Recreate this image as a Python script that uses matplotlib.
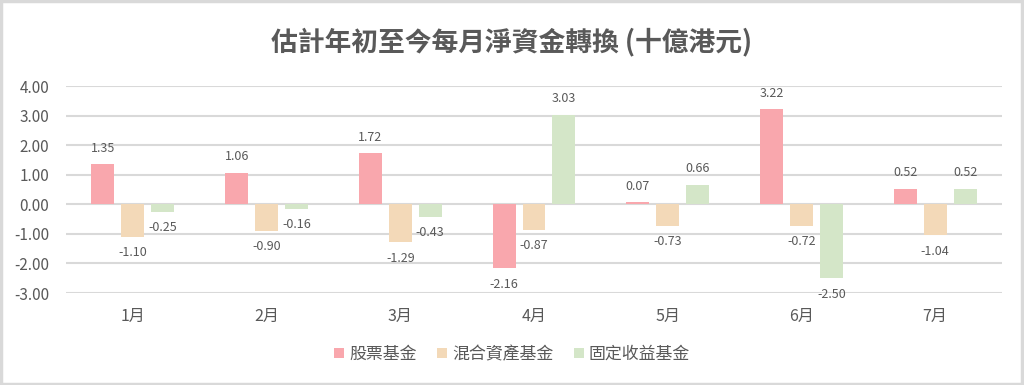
import matplotlib.pyplot as plt
import numpy as np

plt.rcParams['font.family'] = ['Noto Sans CJK TC', 'DejaVu Sans']

# Data (HKD billions)
months = ['1月', '2月', '3月', '4月', '5月', '6月', '7月']
equity = [1.35, 1.06, 1.72, -2.16, 0.07, 3.22, 0.52]
mixed = [-1.10, -0.90, -1.29, -0.87, -0.73, -0.72, -1.04]
fixed_income = [-0.25, -0.16, -0.43, 3.03, 0.66, -2.50, 0.52]
series_names = ['股票基金', '混合資產基金', '固定收益基金']
colors = ['#F9A7AD', '#F3D9B8', '#D4E6C8']

text_color = '#595959'
grid_color = '#D9D9D9'

fig = plt.figure(figsize=(10.24, 3.85), dpi=100)
ax = fig.add_axes([66 / 1024, 1 - 293 / 385, 936 / 1024, 207 / 385])

x = np.arange(len(months))
width = 0.172
step = 0.224

for i, (vals, name, c) in enumerate(zip([equity, mixed, fixed_income], series_names, colors)):
    pos = x + (i - 1) * step
    ax.bar(pos, vals, width, color=c, label=name, zorder=3)
    for px, v in zip(pos, vals):
        off = 11.5 if v >= 0 else -11.5
        ax.annotate(f'{v:.2f}', (px, v), xytext=(0, off), textcoords='offset points',
                    ha='center', va='center', fontsize=9, color=text_color)

ax.set_xlim(-0.5, len(months) - 0.5)
ax.set_ylim(-3, 4)
ax.set_yticks(np.arange(-3, 5, 1))
ax.set_yticklabels([f'{t:.2f}' for t in np.arange(-3, 5, 1)])
ax.set_xticks(x)
ax.set_xticklabels(months)
ax.tick_params(axis='both', length=0, colors=text_color)
ax.tick_params(axis='y', labelsize=11, pad=12)
ax.tick_params(axis='x', labelsize=11.5, pad=11)
ax.grid(axis='y', color=grid_color, linewidth=1.5, zorder=0)
for s in ax.spines.values():
    s.set_visible(False)

fig.suptitle('估計年初至今每月淨資金轉換 (十億港元)', y=1 - 42 / 385, va='center',
             fontsize=19.3, fontweight='bold', color=text_color)

leg = fig.legend(loc='center', bbox_to_anchor=(0.5, 1 - 354 / 385), ncol=3, frameon=False,
                 fontsize=12.2, handlelength=0.6, handleheight=0.6, handletextpad=0.3,
                 columnspacing=1.2)
for t in leg.get_texts():
    t.set_color(text_color)

# light grey frame around the chart
fig.patches.append(plt.Rectangle((0.001, 0.002), 0.997, 0.995, transform=fig.transFigure,
                                 fill=False, edgecolor=grid_color, linewidth=2.5))

fig.savefig('out.png', dpi=100)
